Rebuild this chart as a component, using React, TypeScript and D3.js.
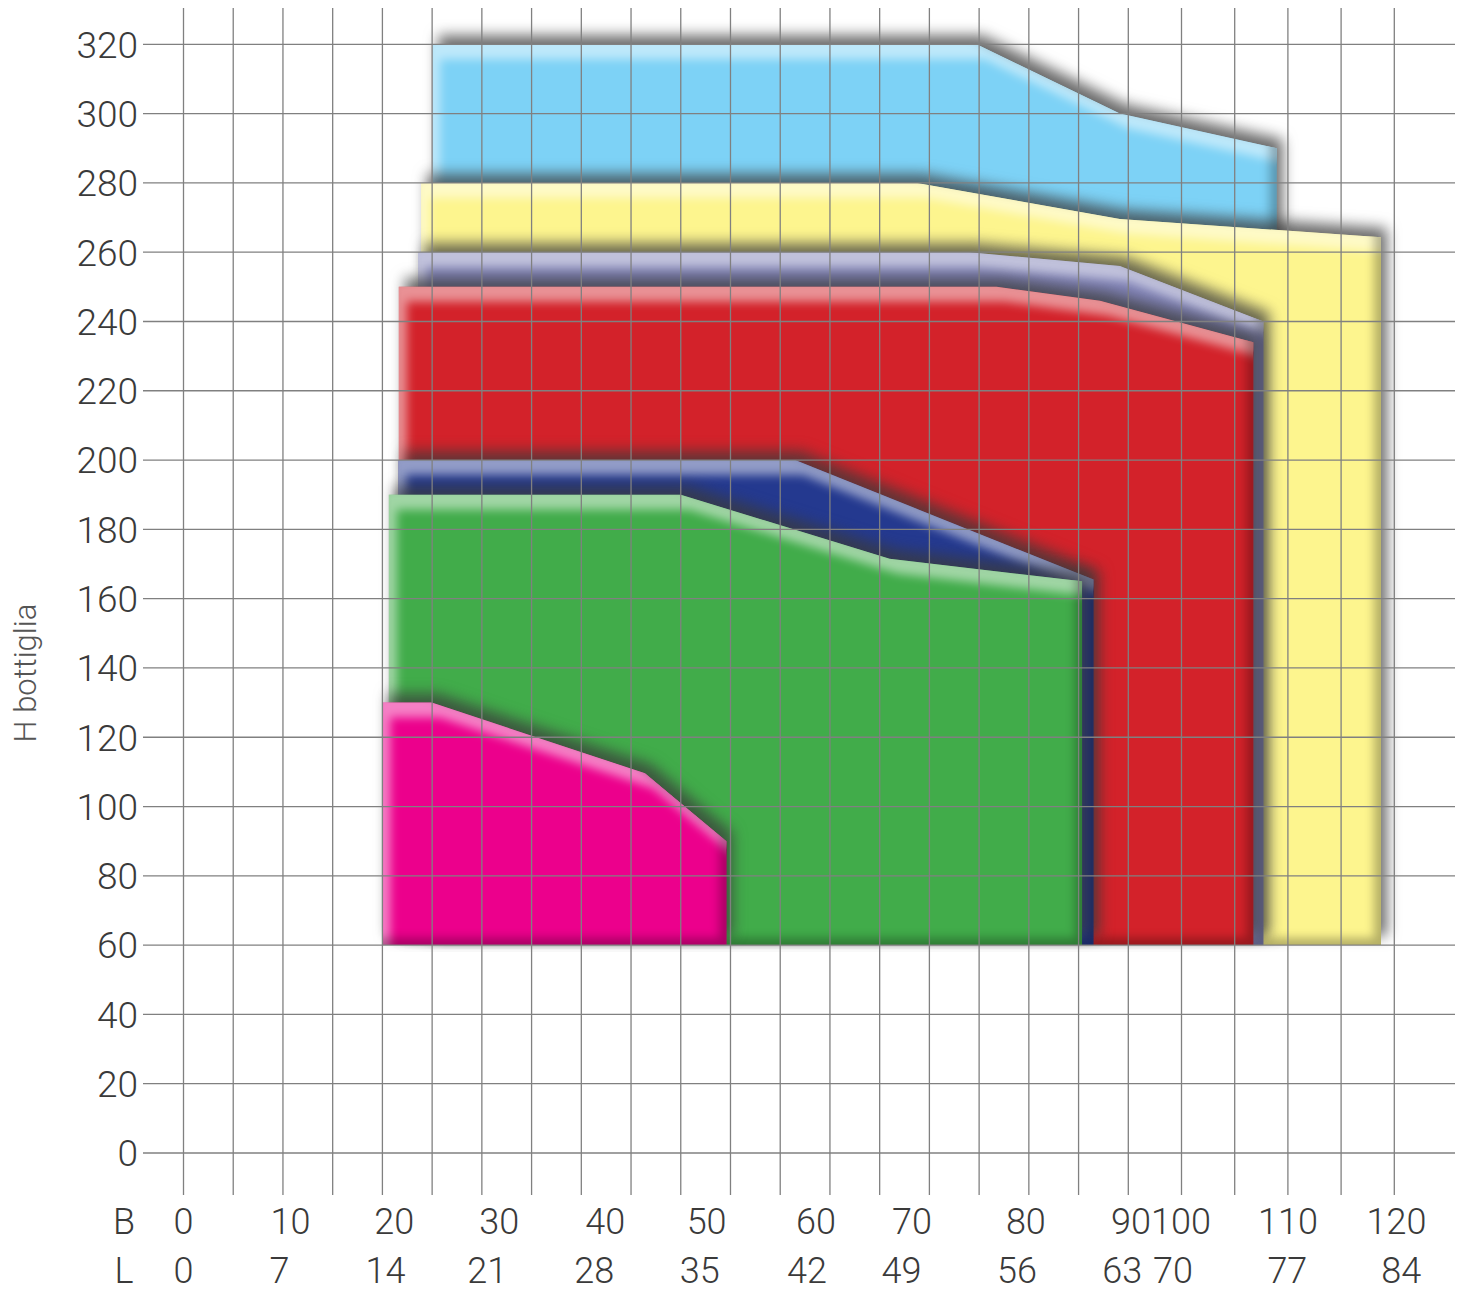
import * as d3 from 'd3';

// H bottiglia ticks (y) and the two bottom rows (B / L)
const hTicks = [0, 20, 40, 60, 80, 100, 120, 140, 160, 180, 200, 220, 240, 260, 280, 300, 320];
const bTicks = ['0', '10', '20', '30', '40', '50', '60', '70', '80', '90', '100', '110', '120'];
const bTickCols = [0, 2.15, 4.24, 6.35, 8.48, 10.52, 12.72, 14.65, 16.94, 19.05, 19.99, 22.0, 24.04];
const lTicks = ['0', '7', '14', '21', '28', '35', '42', '49', '56', '63', '70', '77', '84'];
const lTickCols = [0, 1.93, 4.06, 6.11, 8.26, 10.38, 12.54, 14.44, 16.76, 18.88, 19.84, 21.99, 24.13];

// grid columns (uniform up to 19, wider after)
const gridCols = [0, 1, 2, 3, 4, 5, 6, 7, 8, 9, 10, 11, 12, 13, 14, 15, 16, 17, 18, 19, 20, 21, 22, 23, 24];

// format areas: top profile (column, H), all start from H = 60
const baseH = 60;
const blueCols = [5.0, 15.95, 18.83, 21.79];
const blueH = [320, 320, 300, 290];
const yellowCols = [4.78, 14.75, 18.83, 23.75];
const yellowH = [280, 280, 269.6, 264.3];
const lavenderCols = [4.72, 15.8, 18.83, 21.54];
const lavenderH = [260, 260, 256, 240];
const redCols = [4.33, 16.35, 18.43, 21.35];
const redH = [250, 250, 246, 234];
const navyCols = [4.32, 12.3, 18.3];
const navyH = [200, 200, 165.5];
const greenCols = [4.13, 10.0, 14.2, 18.07];
const greenH = [190, 190, 171.5, 165];
const magentaCols = [4.0, 4.99, 9.28, 10.92];
const magentaH = [130, 130, 109.6, 90];

const shapes = [
  { cols: blueCols, h: blueH, color: '#7dd2f6' },
  { cols: yellowCols, h: yellowH, color: '#fdf58e' },
  { cols: lavenderCols, h: lavenderH, color: '#8284b8' },
  { cols: redCols, h: redH, color: '#d3222a' },
  { cols: navyCols, h: navyH, color: '#24398f' },
  { cols: greenCols, h: greenH, color: '#41ac4a' },
  { cols: magentaCols, h: magentaH, color: '#ec008c' },
];

const width = 1466;
const height = 1293;

const x = d3.scaleLinear().domain([0, 19, 24]).range([183.5, 1128.3, 1394.3]);
const y = d3.scaleLinear().domain([0, 320]).range([1153, 44.3]);

const line = d3.line<[number, number]>()
  .x(d => x(d[0]))
  .y(d => y(d[1]));

function shapePath(cols: number[], h: number[]) {
  const pts: [number, number][] = [[cols[0], baseH]];
  cols.forEach((c, i) => pts.push([c, h[i]]));
  pts.push([cols[cols.length - 1], baseH]);
  return line(pts) + 'Z';
}

const font = 'Roboto, "Liberation Sans", sans-serif';

export default function App() {
  return (
    <svg width={width} height={height} style={{ position: 'absolute', left: 0, top: 0, background: '#fff' }}>
      <defs>
        <filter id="fx" filterUnits="userSpaceOnUse" x="0" y="0" width={width} height={height}
          colorInterpolationFilters="sRGB">
          <feGaussianBlur in="SourceAlpha" stdDeviation="7" result="blur" />
          <feOffset in="blur" dx="6" dy="-9" result="dsOff" />
          <feFlood floodColor="#3a3a3a" floodOpacity="0.75" result="dsCol" />
          <feComposite in="dsCol" in2="dsOff" operator="in" result="ds" />
          <feGaussianBlur in="SourceAlpha" stdDeviation="5" result="b2" />
          <feOffset in="b2" dx="8" dy="15" result="hiOff" />
          <feComposite in="SourceAlpha" in2="hiOff" operator="arithmetic" k1="0" k2="1" k3="-1" k4="0" result="hiMask" />
          <feFlood floodColor="#ffffff" floodOpacity="0.5" result="hiCol" />
          <feComposite in="hiCol" in2="hiMask" operator="in" result="hi" />
          <feOffset in="b2" dx="-7" dy="-7" result="loOff" />
          <feComposite in="SourceAlpha" in2="loOff" operator="arithmetic" k1="0" k2="1" k3="-1" k4="0" result="loMask" />
          <feFlood floodColor="#000000" floodOpacity="0.28" result="loCol" />
          <feComposite in="loCol" in2="loMask" operator="in" result="lo" />
          <feMerge>
            <feMergeNode in="ds" />
            <feMergeNode in="SourceGraphic" />
            <feMergeNode in="hi" />
            <feMergeNode in="lo" />
          </feMerge>
        </filter>
      </defs>

      {/* format areas, back to front */}
      {shapes.map((s, i) => (
        <path key={i} d={shapePath(s.cols, s.h)} fill={s.color} filter="url(#fx)" />
      ))}

      {/* grid on top */}
      <g stroke="#808080" strokeWidth={1.3}>
        {hTicks.map(t => (
          <line key={'h' + t} x1={143} x2={1455} y1={y(t)} y2={y(t)} />
        ))}
        {gridCols.map(c => (
          <line key={'v' + c} x1={x(c)} x2={x(c)} y1={8} y2={1195} />
        ))}
      </g>

      {/* y labels */}
      <g fontFamily={font} fontWeight={300} fontSize={37} fill="#3a3a3a" textAnchor="end">
        {hTicks.map(t => (
          <text key={t} x={138} y={y(t)} dy="0.36em">{t}</text>
        ))}
      </g>
      <text transform="translate(36,673) rotate(-90)" textAnchor="middle" fontFamily={font} fontWeight={300}
        fontSize={31} fill="#555">H bottiglia</text>

      {/* bottom rows */}
      <g fontFamily={font} fontWeight={300} fontSize={36} fill="#3a3a3a" textAnchor="middle">
        <text x={124} y={1221} dy="0.35em">B</text>
        {bTicks.map((t, i) => (
          <text key={'b' + t} x={x(bTickCols[i])} y={1221} dy="0.35em">{t}</text>
        ))}
        <text x={124} y={1270} dy="0.35em">L</text>
        {lTicks.map((t, i) => (
          <text key={'l' + t} x={x(lTickCols[i])} y={1270} dy="0.35em">{t}</text>
        ))}
      </g>
    </svg>
  );
}
